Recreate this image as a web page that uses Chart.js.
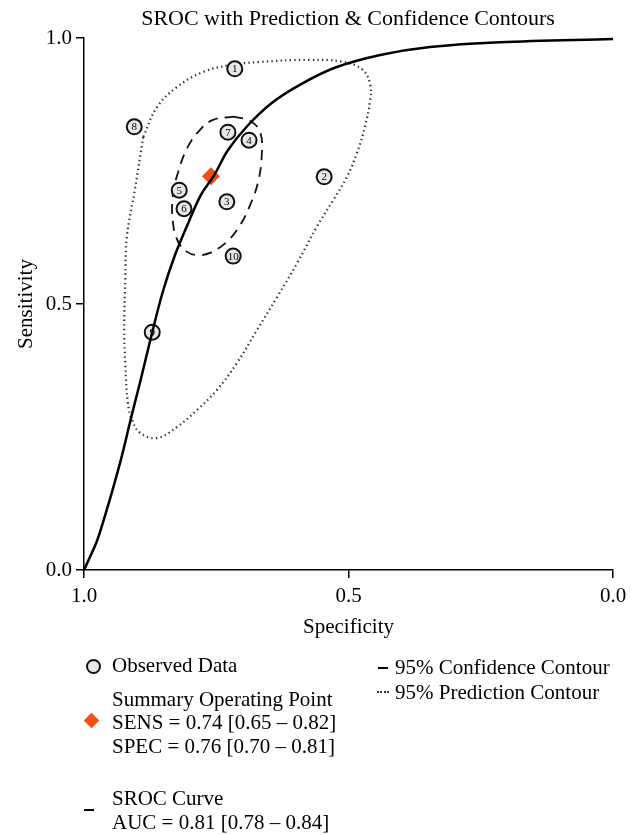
<!DOCTYPE html>
<html>
<head>
<meta charset="utf-8">
<title>SROC with Prediction & Confidence Contours</title>
<script src="https://cdn.jsdelivr.net/npm/chart.js@4/dist/chart.umd.min.js"></script>
<style>
body{margin:0;background:#fff;}
#wrap{position:relative;width:638px;height:835px;font-family:"Liberation Serif","DejaVu Serif",serif;color:#000;}
#sroc{position:absolute;left:0;top:0;}
.lg{position:absolute;font-size:21px;line-height:24px;white-space:nowrap;}
.sym{position:absolute;}
#ttl{position:absolute;left:48px;width:600px;top:5px;text-align:center;font-size:22px;line-height:26px;white-space:nowrap;}
</style>
</head>
<body>
<div id="wrap">
<canvas id="sroc" width="638" height="835"></canvas>
<div id="ttl">SROC with Prediction &amp; Confidence Contours</div>

<div class="sym" style="left:86px;top:659px;width:11px;height:11px;border:2px solid #111;border-radius:50%;background:#e8e8e8;"></div>
<div class="lg" style="left:112px;top:653px;">Observed Data</div>

<div class="lg" style="left:112px;top:687px;">Summary Operating Point</div>
<div class="sym" style="left:86px;top:715px;width:11px;height:11px;background:#f05014;transform:rotate(45deg);"></div>
<div class="lg" style="left:112px;top:710px;">SENS = 0.74 [0.65 – 0.82]</div>
<div class="lg" style="left:112px;top:734px;">SPEC = 0.76 [0.70 – 0.81]</div>

<div class="sym" style="left:84px;top:809px;width:10px;height:2px;background:#000;"></div>
<div class="lg" style="left:112px;top:786px;">SROC Curve</div>
<div class="lg" style="left:112px;top:810px;">AUC = 0.81 [0.78 – 0.84]</div>

<div class="sym" style="left:378px;top:667px;width:10px;height:2px;background:#000;"></div>
<div class="lg" style="left:395px;top:655px;">95% Confidence Contour</div>
<div class="sym" style="left:377px;top:691px;width:12px;height:1px;border-top:2px dotted #333;"></div>
<div class="lg" style="left:395px;top:680px;">95% Prediction Contour</div>
</div>

<script>
// observed studies
var studyIds=['1','2','3','4','5','6','7','8','9','10'];
var studySpec=[0.715,0.546,0.730,0.688,0.820,0.811,0.728,0.905,0.871,0.718];
var studySens=[0.942,0.739,0.692,0.808,0.714,0.679,0.823,0.833,0.447,0.590];

// summary operating point
var summarySpec=[0.76];
var summarySens=[0.74];

// SROC curve
var curveSpec=[1.000,0.989,0.975,0.960,0.945,0.928,0.911,0.892,0.871,0.851,0.828,0.803,0.779,0.754,0.728,0.690,0.645,0.592,0.526,0.440,0.346,0.214,0.000];
var curveSens=[0.000,0.024,0.056,0.103,0.154,0.216,0.286,0.361,0.447,0.523,0.592,0.652,0.705,0.742,0.789,0.836,0.878,0.912,0.944,0.968,0.983,0.992,0.998];

// 95% confidence contour
var confSpec=[0.718,0.686,0.667,0.664,0.671,0.686,0.705,0.730,0.762,0.786,0.805,0.822,0.832,0.832,0.822,0.805,0.781,0.756,0.718];
var confSens=[0.852,0.844,0.823,0.780,0.729,0.686,0.648,0.617,0.596,0.592,0.598,0.617,0.654,0.705,0.748,0.793,0.827,0.846,0.852];

// 95% prediction contour
var predSpec=[0.888,0.862,0.824,0.775,0.724,0.667,0.573,0.510,0.473,0.459,0.459,0.469,0.484,0.503,0.529,0.560,0.597,0.635,0.673,0.711,0.749,0.786,0.824,0.862,0.894,0.909,0.917,0.922,0.924,0.922,0.919,0.904,0.888];
var predSens=[0.814,0.870,0.908,0.936,0.949,0.955,0.959,0.955,0.940,0.912,0.883,0.833,0.784,0.739,0.695,0.645,0.577,0.513,0.451,0.389,0.338,0.301,0.269,0.248,0.258,0.282,0.314,0.389,0.451,0.545,0.626,0.714,0.814];

var FONT='"Liberation Serif","DejaVu Serif",serif';

function pts(xs,ys){
  return xs.map(function(x,i){return {x:x,y:ys[i]};});
}

// numbers inside the study circles
var pointNumbers={
  id:'pointNumbers',
  afterDatasetDraw:function(chart,args){
    if(args.index!==0) return;
    var ctx=chart.ctx;
    ctx.save();
    ctx.font='11px '+FONT;
    ctx.fillStyle='#000';
    ctx.textAlign='center';
    ctx.textBaseline='middle';
    args.meta.data.forEach(function(p,i){ctx.fillText(studyIds[i],p.x,p.y+0.5);});
    ctx.restore();
  }
};

var axisGrid={drawOnChartArea:false,drawTicks:true,tickLength:8,color:'#000',lineWidth:1.5};

var myChart=new Chart(document.getElementById('sroc'),{
  type:'scatter',
  data:{
    datasets:[
      {label:'Observed Data',data:pts(studySpec,studySens),order:3,
       pointRadius:7.5,pointBorderWidth:2,pointBackgroundColor:'#e8e8e8',pointBorderColor:'#111'},
      {label:'Summary Operating Point',data:pts(summarySpec,summarySens),order:2,
       pointStyle:'rectRot',pointRadius:9,pointBorderWidth:0,pointBackgroundColor:'#f05014',pointBorderColor:'#f05014'},
      {label:'SROC Curve',data:pts(curveSpec,curveSens),order:1,showLine:true,pointRadius:0,
       borderColor:'#000',borderWidth:2.5,tension:0.35,clip:false},
      {label:'95% Confidence Contour',data:pts(confSpec,confSens),order:4,showLine:true,pointRadius:0,
       borderColor:'#111',borderWidth:1.8,borderDash:[10,7],tension:0.4},
      {label:'95% Prediction Contour',data:pts(predSpec,predSens),order:5,showLine:true,pointRadius:0,
       borderColor:'#333',borderWidth:2.2,borderDash:[1.4,3.2],tension:0.4}
    ]
  },
  options:{
    responsive:false,
    animation:false,
    events:[],
    devicePixelRatio:1,
    layout:{padding:{left:0,right:25,top:38,bottom:193}},
    plugins:{
      legend:{display:false},
      tooltip:{enabled:false},
      title:{display:false}
    },
    scales:{
      x:{type:'linear',min:0,max:1,reverse:true,
        afterFit:function(s){s.height=72;},
        grid:axisGrid,border:{display:true,color:'#000',width:1.5},
        ticks:{stepSize:0.5,color:'#000',padding:6,font:{family:FONT,size:21},
          callback:function(v){return v.toFixed(1);}},
        title:{display:true,text:'Specificity',color:'#000',font:{family:FONT,size:21},padding:{top:0,bottom:2}}
      },
      y:{type:'linear',min:0,max:1,
        afterFit:function(s){s.width=84;},
        grid:axisGrid,border:{display:true,color:'#000',width:1.5},
        ticks:{stepSize:0.5,color:'#000',padding:4,font:{family:FONT,size:21},
          callback:function(v){return v.toFixed(1);}},
        title:{display:true,text:'Sensitivity',color:'#000',font:{family:FONT,size:21},padding:{top:14,bottom:0}}
      }
    }
  },
  plugins:[pointNumbers]
});
</script>
</body>
</html>
